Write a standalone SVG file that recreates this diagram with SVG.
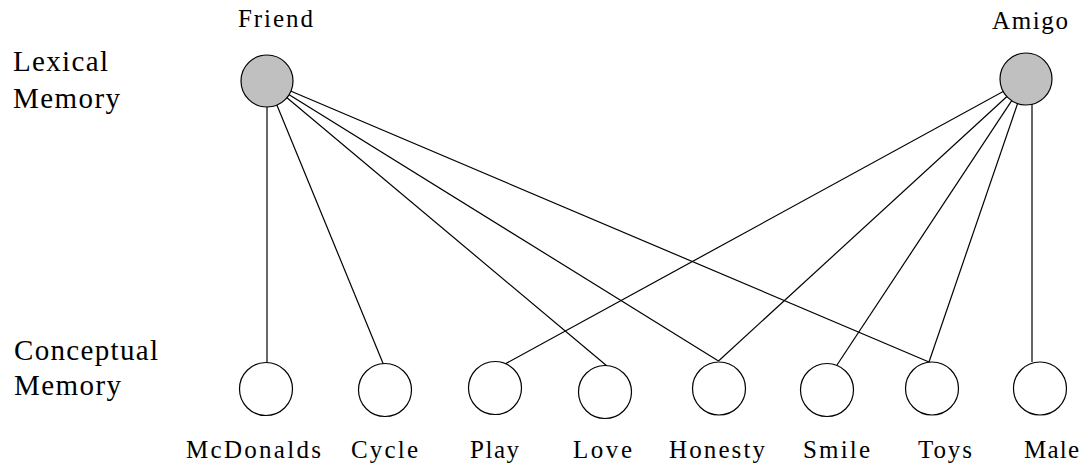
<svg xmlns="http://www.w3.org/2000/svg" width="1091" height="466" viewBox="0 0 1091 466">
<style>
text{font-family:"Liberation Serif","Times New Roman",serif;fill:#000}
.side{font-size:29px}
.lbl{font-size:25px}
.lex{fill:#c0c0c0;stroke:#000;stroke-width:1.2}
.con{fill:#fff;stroke:#000;stroke-width:1.2}
#connectors line{stroke:#000;stroke-width:1.2}
</style>
<rect width="1091" height="466" fill="#fff"/>
<g id="side-labels">
<text class="side" x="13" y="71" textLength="95" lengthAdjust="spacing">Lexical</text>
<text class="side" x="13" y="108" textLength="107" lengthAdjust="spacing">Memory</text>
<text class="side" x="14" y="360" textLength="144" lengthAdjust="spacing">Conceptual</text>
<text class="side" x="14" y="395" textLength="107" lengthAdjust="spacing">Memory</text>
</g>
<g id="connectors">
<line x1="267" y1="81" x2="267" y2="363"/>
<line x1="267" y1="81" x2="383.5" y2="364.5"/>
<line x1="267" y1="81" x2="607" y2="366"/>
<line x1="267" y1="81" x2="718.5" y2="361"/>
<line x1="267" y1="81" x2="929" y2="362"/>
<line x1="1026" y1="79" x2="505" y2="364"/>
<line x1="1026" y1="79" x2="718.5" y2="361"/>
<line x1="1026" y1="79" x2="837" y2="365"/>
<line x1="1026" y1="79" x2="929" y2="362"/>
<line x1="1032" y1="79" x2="1032" y2="362"/>
</g>
<g id="friend">
<circle class="lex" cx="267" cy="81" r="26"/>
<text class="lbl" x="238" y="27" textLength="75" lengthAdjust="spacing">Friend</text>
</g>
<g id="amigo">
<circle class="lex" cx="1026" cy="79" r="26"/>
<text class="lbl" x="992" y="29" textLength="76" lengthAdjust="spacing">Amigo</text>
</g>
<g id="mcdonalds">
<circle class="con" cx="266" cy="389" r="26.5"/>
<text class="lbl" x="186" y="458" textLength="135" lengthAdjust="spacing">McDonalds</text>
</g>
<g id="cycle">
<circle class="con" cx="385" cy="390" r="26.5"/>
<text class="lbl" x="351" y="458" textLength="67" lengthAdjust="spacing">Cycle</text>
</g>
<g id="play">
<circle class="con" cx="495" cy="388" r="26.5"/>
<text class="lbl" x="470" y="458" textLength="49" lengthAdjust="spacing">Play</text>
</g>
<g id="love">
<circle class="con" cx="605" cy="392" r="26.5"/>
<text class="lbl" x="573" y="458" textLength="59" lengthAdjust="spacing">Love</text>
</g>
<g id="honesty">
<circle class="con" cx="719" cy="388.5" r="26.5"/>
<text class="lbl" x="669" y="458" textLength="96" lengthAdjust="spacing">Honesty</text>
</g>
<g id="smile">
<circle class="con" cx="827" cy="390" r="26.5"/>
<text class="lbl" x="803" y="458" textLength="67" lengthAdjust="spacing">Smile</text>
</g>
<g id="toys">
<circle class="con" cx="932" cy="388.5" r="26.5"/>
<text class="lbl" x="918" y="458" textLength="54" lengthAdjust="spacing">Toys</text>
</g>
<g id="male">
<circle class="con" cx="1040" cy="388.5" r="26.5"/>
<text class="lbl" x="1024" y="458" textLength="55" lengthAdjust="spacing">Male</text>
</g>
</svg>
